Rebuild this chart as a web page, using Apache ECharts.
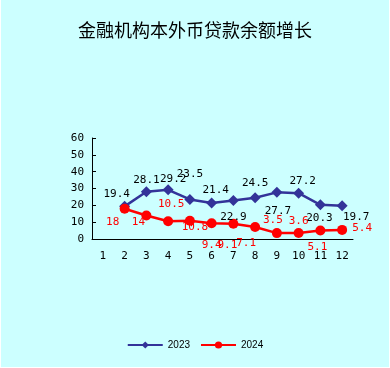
<!DOCTYPE html>
<html><head><meta charset="utf-8">
<script src="https://cdn.jsdelivr.net/npm/echarts@6/dist/echarts.min.js"></script>
<style>html,body{margin:0;padding:0;background:#fff;}#c{position:absolute;left:1px;top:0;width:388px;height:367px;}</style>
</head><body><div id="c"></div>
<script>
const categories = ['1','2','3','4','5','6','7','8','9','10','11','12'];
const values2023 = [null, 19.4, 28.1, 29.2, 23.5, 21.4, 22.9, 24.5, 27.7, 27.2, 20.3, 19.7];
const values2024 = [null, 18, 14, 10.5, 10.8, 9.4, 9.1, 7.1, 3.5, 3.6, 5.1, 5.4];
const seriesNames = ['2023', '2024'];
const titleText = '金融机构本外币贷款余额增长';

// label offsets (styling, separate from data)
const off2023 = [null, [-8,-12], [0,-12], [5,-11], [0,-25], [4,-13], [0,17], [0,-15], [1,19], [4,-12], [-1,13], [14,11]];
const off2024 = [null, [-12,13], [-8,7], [3,-17], [5,6], [0,22], [-6,21], [-9,16], [-4,-13], [0,-12], [-3,17], [20,-2]];

const lblFont = {fontFamily:'DejaVu Sans Mono', fontSize:11};
function build(vals, offs, color) {
  return vals.map((v, i) => v === null ? null : {
    value: v,
    label: {show:true, position:'inside', offset: offs[i], color: color, ...lblFont, align:'center', verticalAlign:'middle'}
  });
}

const chart = echarts.init(document.getElementById('c'));
chart.setOption({
  backgroundColor: '#CCFFFF',
  animation: false,
  title: {text: titleText, left: 'center', top: 16,
    textStyle: {fontFamily: 'Noto Sans CJK SC', fontWeight: 'normal', fontSize: 18, color: '#000'}},
  grid: {left: 91, right: 36, top: 138, bottom: 128},
  legend: {bottom: 12, left: 'center', itemWidth: 35, itemHeight: 9, itemGap: 10,
    textStyle: {fontFamily: 'Liberation Sans', fontSize: 10, color: '#000'},
    data: seriesNames},
  xAxis: {type: 'category', data: categories, boundaryGap: true,
    axisLine: {lineStyle: {color: '#000', width: 1}},
    axisTick: {inside: true, length: 4, lineStyle: {color: '#000'}},
    axisLabel: {color: '#000', margin: 12, fontFamily: 'DejaVu Sans Mono', fontSize: 11}},
  yAxis: {type: 'value', min: 0, max: 60, interval: 10,
    splitLine: {show: false},
    axisLine: {show: true, lineStyle: {color: '#000', width: 1}},
    axisTick: {show: true, inside: true, length: 4, lineStyle: {color: '#000'}},
    axisLabel: {color: '#000', margin: 8, fontFamily: 'DejaVu Sans Mono', fontSize: 11}},
  series: [
    {name: seriesNames[0], type: 'line', data: build(values2023, off2023, '#000'),
     symbol: 'diamond', symbolSize: 11, color: '#333399',
     lineStyle: {width: 2.5, color: '#333399'}, itemStyle: {color: '#333399'}},
    {name: seriesNames[1], type: 'line', data: build(values2024, off2024, '#ff0000'),
     symbol: 'circle', symbolSize: 10, color: '#ff0000',
     lineStyle: {width: 2.5, color: '#ff0000'}, itemStyle: {color: '#ff0000'}}
  ]
});
</script></body></html>
